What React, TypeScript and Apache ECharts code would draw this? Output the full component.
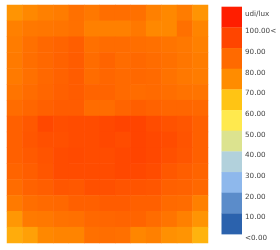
import React, { useEffect, useRef } from "react";
import * as echarts from "echarts";

const columns = ["1","2","3","4","5","6","7","8","9","10","11","12","13"];
const rows = ["1","2","3","4","5","6","7","8","9","10","11","12","13","14","15"];

const row0 = [73.5,76.2,78.5,79.7,83.2,80.9,83.8,83.8,83.2,78.5,76.2,79.7,73.5];
const row1 = [78.5,80.9,81.5,82.1,83.2,78.5,78.5,78.5,80.9,76.2,76.2,83.2,77.4];
const row2 = [79.7,83.2,85.5,86.6,88.2,83.2,84.4,84.4,83.8,83.2,82.1,80.9,78.5];
const row3 = [80.3,83.8,85.5,87.2,88.8,84.4,86.6,84.4,85.5,84.4,83.2,81.5,79.7];
const row4 = [80.3,83.2,85.5,87.2,88.8,84.4,86.1,85.0,85.5,85.0,82.6,80.9,79.7];
const row5 = [82.1,84.4,86.1,87.7,88.8,86.6,86.6,85.0,84.4,85.0,83.8,82.6,82.1];
const row6 = [84.4,86.1,87.7,88.8,88.8,84.4,84.4,86.6,88.2,87.2,86.1,86.1,85.5];
const row7 = [87.7,89.9,94.2,92.6,93.1,93.1,94.2,95.2,95.2,93.1,91.5,90.4,87.7];
const row8 = [87.7,90.4,92.0,92.0,93.1,93.1,94.2,93.1,95.2,94.2,93.1,91.0,87.7];
const row9 = [87.7,89.3,91.0,93.1,93.6,93.1,93.1,94.2,95.2,94.2,92.0,90.4,87.7];
const row10 = [86.6,88.2,90.4,93.1,93.1,93.1,93.1,94.2,94.2,93.1,89.9,88.2,86.6];
const row11 = [84.4,87.2,88.2,90.4,89.9,92.0,92.0,91.0,91.0,90.4,87.7,87.2,85.5];
const row12 = [80.3,83.8,85.0,85.5,87.7,87.7,88.8,88.8,87.7,87.7,85.0,84.4,78.5];
const row13 = [73.1,80.3,80.9,82.6,83.2,85.5,86.1,86.6,86.6,84.4,82.1,78.5,73.5];
const row14 = [69.2,71.5,76.2,77.4,77.4,83.2,83.8,83.2,76.8,78.5,74.2,73.5,68.1];

const grid = [row0,row1,row2,row3,row4,row5,row6,row7,row8,row9,row10,row11,row12,row13,row14];

// legend, top to bottom
const legendColors = ["#FF1E00","#FF4500","#FF6A00","#FF8C00","#FFC414","#FFE94E","#DCE38F","#B2D1DC","#8EB8EC","#5B8CCA","#2B62AD"];
const legendLabels = ["udi/lux","100.00<","90.00","80.00","70.00","60.00","50.00","40.00","30.00","20.00","10.00","<0.00"];

export default function App() {
  const ref = useRef<HTMLDivElement>(null);
  useEffect(() => {
    if (!ref.current) return;
    const chart = echarts.init(ref.current, null, { renderer: "svg" });
    const data: any[] = [];
    grid.forEach((r, y) => r.forEach((v, x) => data.push([x, y, v])));

    const lx = 221.5, lw = 20.5, ly = 6.7, lh = 20.67;
    const graphics: any[] = [];
    legendColors.forEach((c, i) => {
      graphics.push({
        type: "rect",
        shape: { x: lx, y: ly + i * lh, width: lw, height: lh + 0.3 },
        style: { fill: c },
        silent: true,
      });
    });
    legendLabels.forEach((t, i) => {
      const y = i === 0 ? 13 : ly + i * lh + 3.5;
      graphics.push({
        type: "text",
        x: 245,
        y,
        style: {
          text: t,
          fill: "#444",
          font: "7.2px 'DejaVu Sans'",
          verticalAlign: "middle",
          align: "left",
        },
        silent: true,
      });
    });

    chart.setOption({
      animation: false,
      grid: { left: 7, top: 5, width: 201, height: 238 },
      xAxis: { type: "category", data: columns, show: false },
      yAxis: { type: "category", data: rows, show: false, inverse: true },
      visualMap: {
        show: false,
        type: "continuous",
        min: 5,
        max: 105,
        dimension: 2,
        inRange: { color: legendColors.slice().reverse() },
      },
      graphic: graphics,
      series: [
        {
          type: "heatmap",
          data,
          itemStyle: { borderWidth: 0 },
          emphasis: { disabled: true },
        },
      ],
    });
    return () => chart.dispose();
  }, []);
  return (
    <div
      ref={ref}
      style={{ position: "fixed", left: 0, top: 0, width: 280, height: 250 }}
    />
  );
}
